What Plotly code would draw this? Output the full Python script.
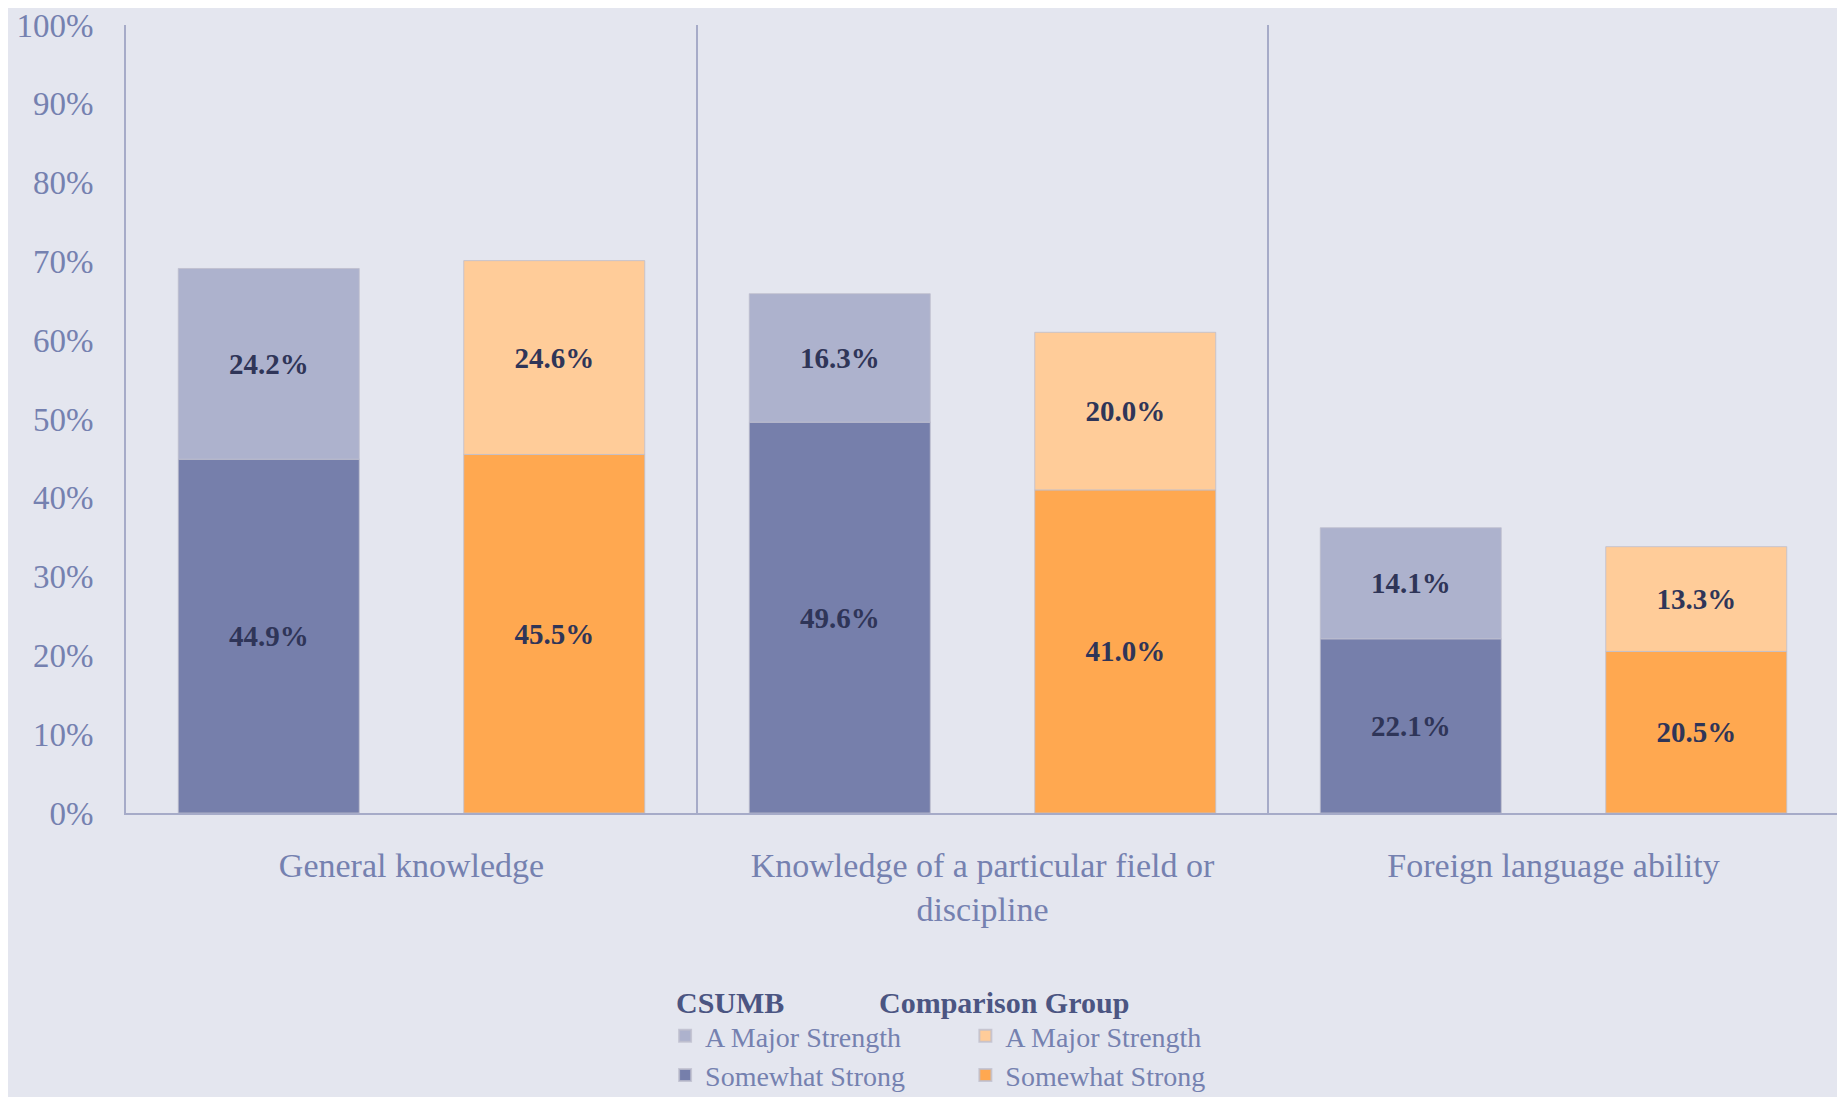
import plotly.graph_objects as go

categories = ["General knowledge", "Knowledge of a particular field or<br>discipline", "Foreign language ability"]
csumb_somewhat = [44.9, 49.6, 22.1]
csumb_major = [24.2, 16.3, 14.1]
comp_somewhat = [45.5, 41.0, 20.5]
comp_major = [24.6, 20.0, 13.3]
y_ticks = [0, 10, 20, 30, 40, 50, 60, 70, 80, 90, 100]

FONT = "Liberation Serif"
BG = "#E4E6EF"
TICK_COL = "#7581B0"
LABEL_COL = "#2F3558"
LINE_COL = "#A6ABC8"

# page body has an 8px margin, so the figure is a bit smaller and shifted
W, H = 1837, 1089
L, T, R, B = 118, 17, 6, 284
PW, PH = W - L - R, H - T - B

fig = go.Figure()

def add_bar(vals, base, name, color, group, legend, rank):
    fig.add_trace(go.Bar(
        x=categories, y=vals, base=base, name=name,
        offsetgroup=group, legend=legend, legendrank=rank,
        marker=dict(color=color, line=dict(color="rgba(190,190,205,0.8)", width=1)),
        text=[f"{v:.1f}%" for v in vals], textposition="inside",
        insidetextanchor="middle",
        textfont=dict(family=FONT, size=29, color=LABEL_COL, weight="bold"),
    ))

add_bar(csumb_somewhat, None, "Somewhat Strong", "#767FAB", "c", "legend", 2)
add_bar(csumb_major, csumb_somewhat, "A Major Strength", "#ADB2CD", "c", "legend", 1)
add_bar(comp_somewhat, None, "Somewhat Strong", "#FFA850", "g", "legend2", 2)
add_bar(comp_major, comp_somewhat, "A Major Strength", "#FFCC99", "g", "legend2", 1)

leg_top = 1003  # legend top, figure pixels
leg_y = (T + PH - leg_top) / PH
fig.update_layout(
    width=W, height=H,
    paper_bgcolor=BG, plot_bgcolor=BG,
    barmode="group", bargap=0.0, bargroupgap=0.366,
    margin=dict(l=L, r=R, t=T, b=B, autoexpand=False),
    font=dict(family=FONT, color=TICK_COL),
    uniformtext=dict(mode="show", minsize=10),
    legend=dict(x=0.3147, y=leg_y, xanchor="left", yanchor="top",
                font=dict(size=28, color=TICK_COL), bgcolor="rgba(0,0,0,0)",
                tracegroupgap=0, itemsizing="constant"),
    legend2=dict(x=0.490, y=leg_y, xanchor="left", yanchor="top",
                 font=dict(size=28, color=TICK_COL), bgcolor="rgba(0,0,0,0)",
                 tracegroupgap=0, itemsizing="constant"),
)

# legend column titles
for txt, px in [("<b>CSUMB</b>", 666), ("<b>Comparison Group</b>", 869)]:
    fig.add_annotation(
        text=txt, x=(px - L) / PW, y=(T + PH - 994) / PH,
        xref="paper", yref="paper", xanchor="left", yanchor="middle",
        showarrow=False, font=dict(family=FONT, size=30, color="#4B5582"),
    )

fig.update_xaxes(
    automargin=False,
    showline=True, linecolor=LINE_COL, linewidth=2,
    tickson="boundaries", showgrid=True, gridcolor=LINE_COL, gridwidth=1.5,
    ticks="", tickfont=dict(family=FONT, size=34, color=TICK_COL),
    ticklabelstandoff=21,
)
fig.update_yaxes(
    automargin=False, ticklabeloverflow="allow",
    range=[0, 100], tickvals=y_ticks, ticktext=[f"{v}%" for v in y_ticks],
    showgrid=False, zeroline=False, showline=True, linecolor=LINE_COL, linewidth=2,
    ticks="", tickfont=dict(family=FONT, size=33, color=TICK_COL),
    ticklabelstandoff=24,
)

fig.write_html("out.html")
